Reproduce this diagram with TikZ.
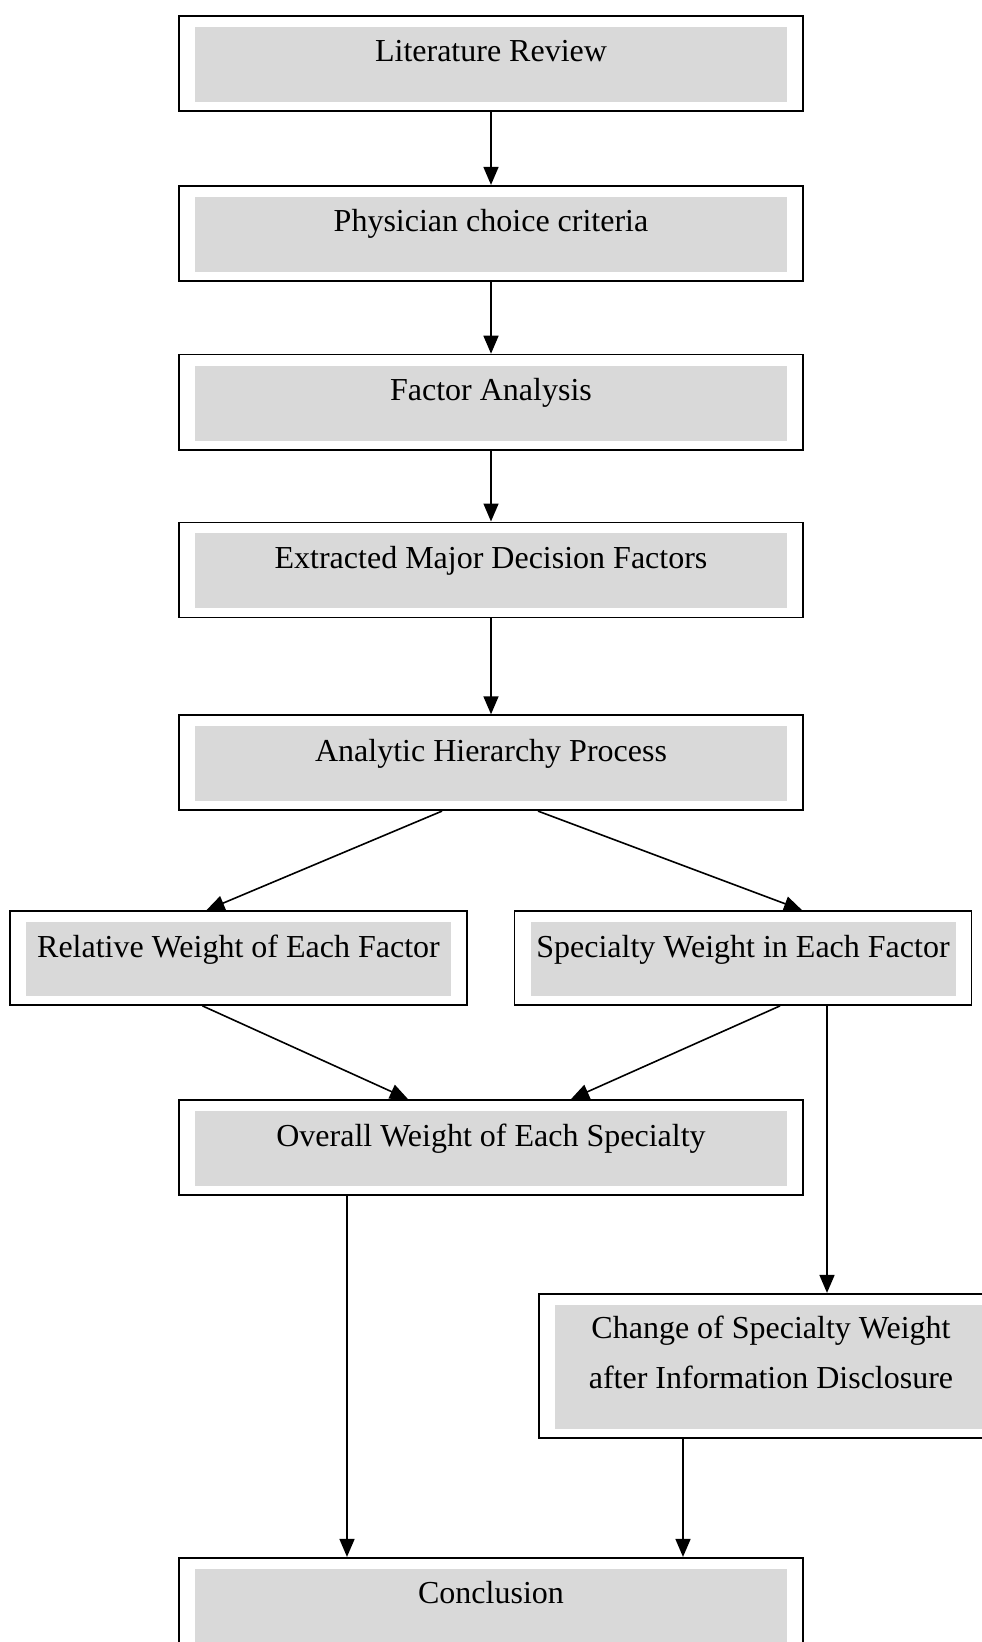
\documentclass[tikz,border=0pt]{standalone}
\usepackage{fontspec}
\setmainfont{Liberation Serif}
\usepackage{xcolor}
\usepackage{tikz}
\usetikzlibrary{positioning,arrows.meta}

\definecolor{boxgray}{HTML}{D9D9D9}

\tikzset{
  stage/.style={draw, line width=0.9pt, fill=white, align=center,
    font=\fontsize{16}{25}\selectfont, inner xsep=0pt, inner ysep=0pt,
    minimum width=312pt, text height=23pt, text depth=24.5pt,
    path picture={\fill[boxgray]
      ([xshift=8pt,yshift=4.5pt]path picture bounding box.south west) rectangle
      ([xshift=-8pt,yshift=-5.5pt]path picture bounding box.north east);}},
  side/.style={stage, minimum width=228.5pt, text depth=24pt},
}

\begin{document}
\begin{tikzpicture}[>={Triangle[length=9pt,width=7.5pt]}, node distance=36pt]
  \useasboundingbox (0pt,0pt) rectangle (490.5pt,-821pt);

  \node[stage] (lit) at (245.5pt,-31.75pt) {Literature Review};
  \node[stage, below=36.5pt of lit] (crit) {Physician choice criteria};
  \node[stage, below=36pt of crit] (fa) {Factor Analysis};
  \node[stage, below=35.5pt of fa] (major) {Extracted Major Decision Factors};
  \node[stage, below=48pt of major] (ahp) {Analytic Hierarchy Process};
  \node[side, below=49.5pt of ahp.south, xshift=-126.25pt] (rel) {Relative Weight of Each Factor};
  \node[side, below=49.5pt of ahp.south, xshift=126pt] (spec) {Specialty Weight in Each Factor};
  \node[stage, below=144pt of ahp] (overall) {Overall Weight of Each Specialty};
  \node[stage, minimum width=232pt, text height=47.5pt, text depth=24.5pt,
    below=143.5pt of spec.south, xshift=14pt] (change)
    {Change of Specialty Weight\\after Information Disclosure};
  \node[stage, below=180.5pt of overall] (concl) {Conclusion};

  \path[->, line width=0.8pt]
    (lit) edge (crit)
    (crit) edge (fa)
    (fa) edge (major)
    (major) edge (ahp)
    ([xshift=-24.5pt]ahp.south) edge ([xshift=-16pt]rel.north)
    ([xshift=23.5pt]ahp.south) edge ([xshift=29.5pt]spec.north)
    ([xshift=-18pt]rel.south) edge ([xshift=-41.5pt]overall.north)
    ([xshift=18.5pt]spec.south) edge ([xshift=40pt]overall.north)
    ([xshift=42pt]spec.south) edge ([xshift=42pt]spec.south |- change.north)
    ([xshift=-72pt]overall.south) edge ([xshift=-72pt]overall.south |- concl.north)
    ([xshift=-44pt]change.south) edge ([xshift=-44pt]change.south |- concl.north);
\end{tikzpicture}
\end{document}
